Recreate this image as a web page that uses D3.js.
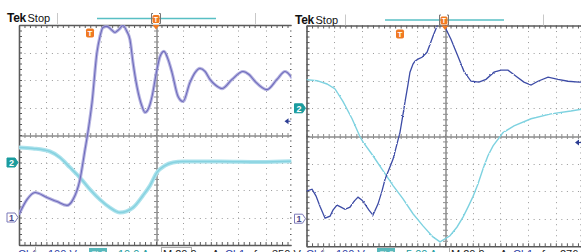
<!DOCTYPE html>
<html>
<head>
<meta charset="utf-8">
<script src="https://cdn.jsdelivr.net/npm/d3@7"></script>
<style>
html, body { margin: 0; padding: 0; background: #fff; overflow: hidden; }
svg { display: block; font-family: "Liberation Sans", Arial, sans-serif; }
</style>
</head>
<body>
<svg id="chart" width="581" height="252"></svg>
<script>
// Two scope captures side by side. Time in ms (20 ms/div, trigger at 0),
// Ch1 in volts, Ch2 in amps, all read off the screenshots.

// --- left capture ---
const leftCh1Time = [-100, -94.2, -88.3, -79.6, -72.3, -65, -60.6, -55.5, -51.8, -49.6, -46.7, -43.1, -40.9, -38.7, -35.8, -32.8, -29.9, -27, -24.1, -21.2, -19, -16.8, -13.9, -10.2, -8, -4.4, -2.9, 0.7, 2.9, 5.8, 8.8, 11.7, 16.1, 19.7, 24.8, 28.5, 32.1, 35.8, 39.4, 43.8, 48.2, 55.5, 63.5, 67.9, 72.3, 81, 88.3, 94.2, 100];
const leftCh1Volts = [11, 65, 91, 73, 58, 44, 65, 138, 247, 313, 418, 600, 658, 691, 695, 684, 673, 684, 698, 676, 647, 564, 476, 404, 382, 411, 440, 538, 585, 604, 575, 527, 440, 422, 491, 527, 542, 531, 502, 480, 469, 502, 531, 520, 495, 465, 502, 531, 502];
const leftCh2Time = [-100, -89.8, -77.4, -70.1, -62.8, -55.5, -48.2, -40.9, -33.6, -26.3, -16.8, -9.5, -4.4, 0.7, 6.6, 12.4, 19.7, 46.7, 75.9, 100];
const leftCh2Amps = [5.5, 5.1, 4.0, 1.8, -1.8, -5.5, -9.8, -13.5, -16.4, -18.2, -16.4, -12.0, -8.4, -3.6, -1.1, 0, 0.4, 0.4, 0.2, 0.5];

// --- right capture ---
const rightCh1Time = [-100, -96, -93.1, -90.3, -86.6, -83, -80.9, -78, -75.1, -72.2, -68.6, -65.7, -62.8, -59.9, -57.8, -54.9, -52, -48.4, -45.5, -43.3, -40.4, -37.5, -34.7, -32.5, -30.3, -28.9, -26.7, -25.3, -23.1, -21.7, -19.5, -16.6, -13, -10.8, -8.7, -5.8, -2.9, 0, 0.7, 4.3, 9.4, 13.7, 18.8, 24.5, 29.6, 35.4, 40.4, 45.5, 51.3, 57, 62.1, 67.1, 74.4, 81.6, 88.8, 96.7, 100];
const rightCh1Volts = [100, 107, 82, 45, 2, 9, 31, 49, 42, 34, 42, 63, 78, 67, 53, 31, 13, 53, 100, 143, 179, 216, 270, 313, 379, 422, 487, 531, 560, 571, 578, 585, 603, 632, 661, 697, 741, 741, 687, 650, 588, 534, 498, 495, 505, 531, 538, 538, 516, 495, 484, 498, 513, 505, 498, 495, 495];
const rightCh2Time = [-100, -92.4, -85.2, -79.4, -73.6, -67.1, -61.3, -59.2, -52, -44.8, -37.5, -30.3, -23.1, -15.9, -8.7, -3.6, 3.6, 8.7, 13, 16.6, 20.2, 23.8, 27.4, 31, 34.7, 41.9, 49.8, 62.1, 76.5, 90.9, 100];
const rightCh2Amps = [5.2, 5.0, 4.4, 3.5, 1.2, -1.9, -5.2, -6.1, -8.6, -11.3, -14.0, -16.4, -19.1, -21.3, -23.3, -24.2, -23.1, -21.5, -19.7, -17.9, -16.0, -13.7, -11.0, -8.6, -6.8, -4.4, -3.2, -1.9, -1.0, -0.5, -0.1];

// readout line under each screen (only its top half is in frame)
const leftReadout = ["Ch1", "100 V", "Ch2", "10.0 A", "M 20.0ms", "A", "Ch1", "ƒ", "350 V"];
const rightReadout = ["Ch1", "100 V", "Ch2", "5.00 A", "M 20.0ms", "A", "Ch1", "ƒ", "276 V"];
const leftTriggerVolts = 350;
const rightTriggerVolts = 276;

const COLORS = {
    ch1Dark: "#3d4ca6",
    ch2Tag: "#1b9c9e",
    orange: "#f07a22",
    grid: "#9a9a9a",
    border: "#5a5a5a",
};

const PANELS = [
    {
        left: 19, right: 293, top: 25, bottom: 245, clipRight: 291.5,
        hx: 0, hy: 0, tMarkX: 90, tMarkY: 33,
        ch1: { t: leftCh1Time, v: leftCh1Volts, domain: [-100, 700] },
        ch2: { t: leftCh2Time, v: leftCh2Amps, domain: [-30, 50] },
        trigger: leftTriggerVolts, readout: leftReadout, soft: true,
    },
    {
        left: 306.5, right: 583.5, top: 25.5, bottom: 246.3, clipRight: 583.5,
        hx: 288, hy: 1.5, tMarkX: 400, tMarkY: 34,
        ch1: { t: rightCh1Time, v: rightCh1Volts, domain: [-100, 700] },
        ch2: { t: rightCh2Time, v: rightCh2Amps, domain: [-25, 15] },
        trigger: rightTriggerVolts, readout: rightReadout, soft: false,
    },
];

const svg = d3.select("#chart");
const defs = svg.append("defs");

// Acquisition-noise look: a small displacement of the drawn stroke.
const jitter = defs.append("filter").attr("id", "jitter")
    .attr("x", "-5%").attr("y", "-5%").attr("width", "110%").attr("height", "110%");
jitter.append("feTurbulence").attr("type", "fractalNoise")
    .attr("baseFrequency", 0.9).attr("numOctaves", 1).attr("seed", 3).attr("result", "n");
jitter.append("feDisplacementMap").attr("in", "SourceGraphic").attr("in2", "n")
    .attr("scale", 2.2).attr("xChannelSelector", "R").attr("yChannelSelector", "G");

PANELS.forEach((p, idx) => {
    const x = d3.scaleLinear().domain([-100, 100]).range([p.left, p.right]);
    const yDiv = d3.scaleLinear().domain([-4, 4]).range([p.bottom, p.top]);
    const y1 = d3.scaleLinear().domain(p.ch1.domain).range([p.bottom, p.top]);
    const y2 = d3.scaleLinear().domain(p.ch2.domain).range([p.bottom, p.top]);
    const xMinor = (p.right - p.left) / 50;
    const yMinor = (p.bottom - p.top) / 40;

    const clipId = `clip-${idx}`;
    defs.append("clipPath").attr("id", clipId)
        .append("rect")
        .attr("x", p.left).attr("y", p.top)
        .attr("width", p.clipRight - p.left).attr("height", p.bottom - p.top);
    const outerClip = `oclip-${idx}`;
    defs.append("clipPath").attr("id", outerClip)
        .append("rect")
        .attr("x", p.left - 20).attr("y", 0)
        .attr("width", p.clipRight - p.left + 20).attr("height", 252);

    const g = svg.append("g").attr("clip-path", `url(#${outerClip})`);

    // dotted graticule
    const grid = g.append("g").attr("stroke", COLORS.grid).attr("stroke-width", 1);
    grid.selectAll("line.v").data(d3.range(-80, 81, 20).filter((d) => d !== 0))
        .join("line")
        .attr("x1", (d) => Math.round(x(d)) + 0.5).attr("x2", (d) => Math.round(x(d)) + 0.5)
        .attr("y1", p.top).attr("y2", p.bottom)
        .attr("stroke-dasharray", `1 ${yMinor - 1}`);
    grid.selectAll("line.h").data([-3, -2, -1, 1, 2, 3])
        .join("line")
        .attr("y1", (d) => Math.round(yDiv(d)) + 0.5).attr("y2", (d) => Math.round(yDiv(d)) + 0.5)
        .attr("x1", p.left).attr("x2", p.right)
        .attr("stroke-dasharray", `1 ${xMinor - 1}`);

    // centre cross with minor ticks on both sides
    const minorT = d3.range(-100, 100.01, 4);
    const minorV = d3.range(-4, 4.01, 0.2);
    const cx = Math.round(x(0)) + 0.5;
    const cy = Math.round(yDiv(0)) + 0.5;
    const axisStyle = (sel, color) => {
        sel.selectAll("text").remove();
        sel.selectAll("path.domain").attr("stroke", color);
        sel.selectAll(".tick line").attr("stroke", color);
    };
    g.append("g").attr("transform", `translate(0,${cy})`)
        .call(d3.axisBottom(x).tickValues(minorT).tickSize(2.5).tickSizeOuter(0).tickFormat(""))
        .call(axisStyle, "#8c8c8c");
    g.append("g").attr("transform", `translate(0,${cy})`)
        .call(d3.axisTop(x).tickValues(minorT).tickSize(2.5).tickSizeOuter(0).tickFormat(""))
        .call(axisStyle, "#8c8c8c");
    g.append("g").attr("transform", `translate(${cx},0)`)
        .call(d3.axisLeft(yDiv).tickValues(minorV).tickSize(2.5).tickSizeOuter(0).tickFormat(""))
        .call(axisStyle, "#8c8c8c");
    g.append("g").attr("transform", `translate(${cx},0)`)
        .call(d3.axisRight(yDiv).tickValues(minorV).tickSize(2.5).tickSizeOuter(0).tickFormat(""))
        .call(axisStyle, "#8c8c8c");

    // frame with inward ticks
    const frame = [
        [d3.axisBottom(x), `translate(0,${p.top})`],
        [d3.axisTop(x), `translate(0,${p.bottom})`],
        [d3.axisRight(yDiv), `translate(${p.left},0)`],
        [d3.axisLeft(yDiv), `translate(${p.right},0)`],
    ];
    frame.forEach(([ax, tr], i) => {
        const vals = i < 2 ? minorT : minorV;
        g.append("g").attr("transform", tr)
            .call(ax.tickValues(vals).tickSize(3).tickSizeOuter(0).tickFormat(""))
            .call(axisStyle, COLORS.border)
            .call((s) => s.select("path.domain").attr("stroke-width", 1.6));
    });

    // traces
    const traces = g.append("g").attr("clip-path", `url(#${clipId})`);
    const curve = p.soft ? d3.curveMonotoneX : d3.curveLinear;
    const ch2Line = d3.line().x((d) => x(d[0])).y((d) => y2(d[1])).curve(curve);
    const ch1Line = d3.line().x((d) => x(d[0])).y((d) => y1(d[1])).curve(curve);
    const ch2Data = d3.zip(p.ch2.t, p.ch2.v);
    const ch1Data = d3.zip(p.ch1.t, p.ch1.v);

    if (p.soft) {
        traces.append("path").attr("d", ch2Line(ch2Data))
            .attr("fill", "none").attr("stroke", "#ace2ec").attr("stroke-width", 4);
        traces.append("path").attr("d", ch2Line(ch2Data))
            .attr("fill", "none").attr("stroke", "#86d2e0").attr("stroke-width", 1.5);
        traces.append("path").attr("d", ch1Line(ch1Data))
            .attr("fill", "none").attr("stroke", "#a9a7dc").attr("stroke-width", 3.2)
            .attr("stroke-opacity", 0.85);
        traces.append("path").attr("d", ch1Line(ch1Data))
            .attr("fill", "none").attr("stroke", "#6f6cbc").attr("stroke-width", 1.1);
    } else {
        const noisy = traces.append("g").attr("filter", "url(#jitter)");
        noisy.append("path").attr("d", ch2Line(ch2Data))
            .attr("fill", "none").attr("stroke", "#7ed2e0").attr("stroke-width", 1.4);
        noisy.append("path").attr("d", ch1Line(ch1Data))
            .attr("fill", "none").attr("stroke", COLORS.ch1Dark).attr("stroke-width", 1.3);
    }

    // trigger point marker on top border
    const tx = x(0);
    g.append("path")
        .attr("d", `M${tx - 3.5},${p.top}L${tx + 3.5},${p.top}L${tx},${p.top + 4.5}Z`)
        .attr("fill", COLORS.orange);

    // trigger level arrow at right edge
    const ty = y1(p.trigger);
    const ax0 = p.right - 3.5;
    g.append("path")
        .attr("d", `M${ax0 - 5},${ty}L${ax0 - 1},${ty - 3}L${ax0 - 1},${ty + 3}Z`)
        .attr("fill", "#2c3d93");
    g.append("line").attr("x1", ax0 - 2).attr("x2", ax0 + 1).attr("y1", ty).attr("y2", ty)
        .attr("stroke", "#2c3d93").attr("stroke-width", 1.2);

    // orange "T" marker (pre-trigger position)
    const tm = g.append("g").attr("transform", `translate(${p.tMarkX},${p.tMarkY})`);
    tm.append("rect").attr("x", -4).attr("y", -4.5).attr("width", 8).attr("height", 9)
        .attr("rx", 1.8).attr("fill", COLORS.orange);
    tm.append("text").attr("y", 3).attr("text-anchor", "middle")
        .attr("font-size", 8).attr("font-weight", "bold").attr("fill", "#fff").text("T");

    // channel ground markers
    const tag = (yy, label, filled) => {
        const tipX = p.left - 1;
        const m = g.append("g").attr("transform", `translate(${tipX},${yy})`);
        m.append("path")
            .attr("d", "M-11,-4.5L-3,-4.5L0,0L-3,4.5L-11,4.5Z")
            .attr("fill", filled ? COLORS.ch2Tag : "#fff")
            .attr("stroke", filled ? COLORS.ch2Tag : "#7b79b8")
            .attr("stroke-width", 1);
        m.append("text").attr("x", -6.5).attr("y", 3.5).attr("text-anchor", "middle")
            .attr("font-size", 9).attr("font-weight", "bold")
            .attr("fill", filled ? "#fff" : "#4b4a8c").text(label);
    };
    tag(y2(0), "2", true);
    tag(y1(0), "1", false);

    // header strip
    const hx = p.hx, hy = p.hy;
    const head = svg.append("g").attr("transform", `translate(${hx},${hy})`);
    head.append("text").attr("x", 7).attr("y", 22).attr("font-size", 12)
        .attr("font-weight", "bold").attr("fill", "#111").attr("letter-spacing", -0.3).text("Tek");
    head.append("text").attr("x", 27.5).attr("y", 22).attr("font-size", 11)
        .attr("fill", "#111").text("Stop");
    [57, 255].forEach((gx) => {
        head.append("line").attr("x1", gx + 0.5).attr("x2", gx + 0.5).attr("y1", 13).attr("y2", 24)
            .attr("stroke", "#c8c8c8").attr("stroke-width", 1);
    });
    head.append("line").attr("x1", 97).attr("x2", 216).attr("y1", 18.5).attr("y2", 18.5)
        .attr("stroke", "#58bfc4").attr("stroke-width", 1.4);
    head.append("path").attr("d", "M153,13.5H151.5V23.5H153M159,13.5H160.5V23.5H159")
        .attr("fill", "none").attr("stroke", "#777").attr("stroke-width", 1);
    head.append("rect").attr("x", 152.5).attr("y", 15).attr("width", 7).attr("height", 8)
        .attr("rx", 1.5).attr("fill", COLORS.orange);
    head.append("text").attr("x", 156).attr("y", 21.5).attr("text-anchor", "middle")
        .attr("font-size", 7).attr("font-weight", "bold").attr("fill", "#fff").text("T");

    // readout (cut off by the window bottom, as in the capture)
    const r = p.readout;
    const rx = hx;
    const rd = svg.append("g").attr("font-size", 11);
    const rText = (xx, s, fill) => rd.append("text").attr("x", rx + xx).attr("y", 258)
        .attr("fill", fill).text(s);
    rText(18, r[0], "#2f42a6");
    rd.append("line").attr("x1", rx + 35.5).attr("x2", rx + 35.5).attr("y1", 247).attr("y2", 252)
        .attr("stroke", "#bbb");
    rText(48, r[1], "#2f42a6");
    rd.append("rect").attr("x", rx + 89).attr("y", 248).attr("width", 18).attr("height", 8)
        .attr("fill", "#58b8bb");
    rd.append("text").attr("x", rx + 98).attr("y", 256).attr("text-anchor", "middle")
        .attr("font-size", 8).attr("fill", "#fff").text(r[2]);
    rText(118, r[3], "#1b9c9e");
    rd.append("rect").attr("x", rx + 161.5).attr("y", 247.5).attr("width", 30).attr("height", 10)
        .attr("fill", "none").attr("stroke", "#aaa");
    rText(163, r[4], "#222");
    rText(212, r[5], "#222");
    rText(225, r[6], "#2f42a6");
    rText(252, r[7], "#222");
    rText(272, r[8], "#222");
});
</script>
</body>
</html>
